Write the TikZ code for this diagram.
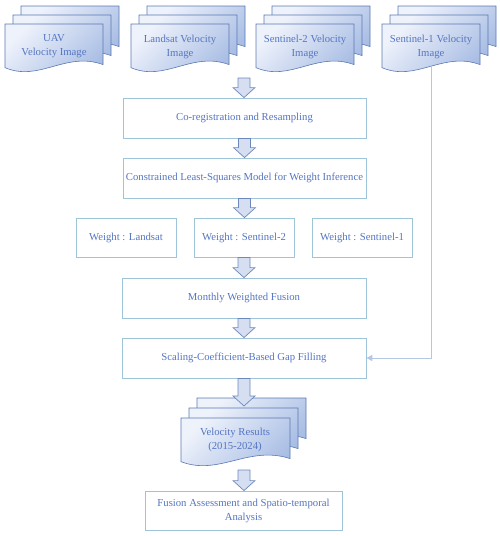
\documentclass[tikz,border=0pt]{standalone}
\usepackage{fontspec}
\setmainfont{Liberation Serif}
\usetikzlibrary{arrows.meta,calc}
\definecolor{boxline}{HTML}{9DC4D9}
\definecolor{txt}{HTML}{5576C2}
\definecolor{docline}{HTML}{5B79B3}
\definecolor{docL}{HTML}{EEF2FB}
\definecolor{docD}{HTML}{A8BDE4}
\definecolor{arrfill}{HTML}{D6DFF1}
\definecolor{arrline}{HTML}{6D88BD}
\definecolor{conn}{HTML}{B4C7E7}
\tikzset{
  box/.style={draw=boxline, line width=0.8pt, fill=white, text=txt, align=center,
    font=\fontsize{10.7}{14}\selectfont, inner sep=2pt},
  doctext/.style={text=txt, align=center, font=\fontsize{10.7}{14}\selectfont, inner sep=0pt},
  docpage/.style={draw=docline, line width=0.6pt, top color=docL, bottom color=docD, shading angle=45},
  blockarr/.style={draw=arrline, fill=arrfill, line width=0.7pt, line join=miter},
  conn/.style={draw=conn, line width=0.9pt, -{Triangle[length=6pt,width=6pt]}}
}
% one page: x y w h
\newcommand{\docpage}[4]{%
  \path[docpage] (#1,#2) -- ({#1+#3},#2) -- ({#1+#3},{#2+0.78*#4})
    .. controls ({#1+0.62*#3},{#2+0.52*#4}) and ({#1+0.35*#3},{#2+1.12*#4}) ..
    (#1,{#2+0.84*#4}) -- cycle;}
% stack of three pages: x y (front) w h dx dy
\newcommand{\docstack}[6]{%
  \docpage{#1+2*#5}{#2-2*#6}{#3}{#4}%
  \docpage{#1+#5}{#2-#6}{#3}{#4}%
  \docpage{#1}{#2}{#3}{#4}}
% block arrow between two named points
\newcommand{\blockarrow}[2]{%
  \path[blockarr] let \p1=(#1), \p2=(#2) in
    ({\x1-6},\y1) -- ({\x1+6},\y1) -- ({\x1+6},{\y2+10}) -- ({\x1+11},{\y2+10})
    -- (\x1,\y2) -- ({\x1-11},{\y2+10}) -- ({\x1-6},{\y2+10}) -- cycle;}
\begin{document}
\begin{tikzpicture}[x=1pt,y=-1pt]
\useasboundingbox (0,0) rectangle (500,536);
% input documents
\docstack{5}{24}{98}{52}{8}{9}
\docstack{131}{24}{98}{52}{8}{9}
\docstack{256}{24}{98}{52}{8}{9}
\docstack{382}{24}{98}{52}{8}{9}
\node[doctext] (uav) at (54,46.5) {UAV\\Velocity Image};
\node[doctext] (lan) at (180,46.5) {Landsat Velocity\\Image};
\node[doctext] (s2) at (305,46.5) {Sentinel-2 Velocity\\Image};
\node[doctext] (s1) at (431,46.5) {Sentinel-1 Velocity\\Image};
\coordinate (s1b) at (431,67);
\coordinate (top1) at (244,78);
% process boxes
\node[box, minimum width=243pt, minimum height=40pt] (coreg) at (244.5,118) {Co-registration and Resampling};
\node[box, minimum width=243pt, minimum height=40pt] (cls) at (244.5,178) {Constrained Least-Squares Model for Weight Inference};
\node[box, minimum width=100pt, minimum height=39pt] (wL) at (126,237.5) {Weight : Landsat};
\node[box, minimum width=100pt, minimum height=39pt] (wS2) at (244,237.5) {Weight : Sentinel-2};
\node[box, minimum width=100pt, minimum height=39pt] (wS1) at (362,237.5) {Weight : Sentinel-1};
\node[box, minimum width=244pt, minimum height=40pt] (mwf) at (244,298) {Monthly Weighted Fusion};
\node[box, minimum width=244pt, minimum height=40pt] (gap) at (244,358) {Scaling-Coefficient-Based Gap Filling};
% result documents
\docstack{181}{418}{109}{52}{8}{10}
\node[doctext] (vr) at (235,439.5) {Velocity Results\\(2015-2024)};
\coordinate (vrtop) at (244,406);
\coordinate (vrbot) at (244,470);
\node[box, minimum width=197pt, minimum height=39pt] (final) at (243.5,510.5) {Fusion Assessment and Spatio-temporal\\Analysis};
% block arrows
\blockarrow{top1}{coreg.north}
\blockarrow{coreg.south}{cls.north}
\blockarrow{cls.south}{wS2.north}
\blockarrow{wS2.south}{mwf.north}
\blockarrow{mwf.south}{gap.north}
\blockarrow{gap.south}{vrtop}
\blockarrow{vrbot}{final.north}
% Sentinel-1 connector
\draw[conn] (s1b) |- (gap.east);
\end{tikzpicture}
\end{document}
